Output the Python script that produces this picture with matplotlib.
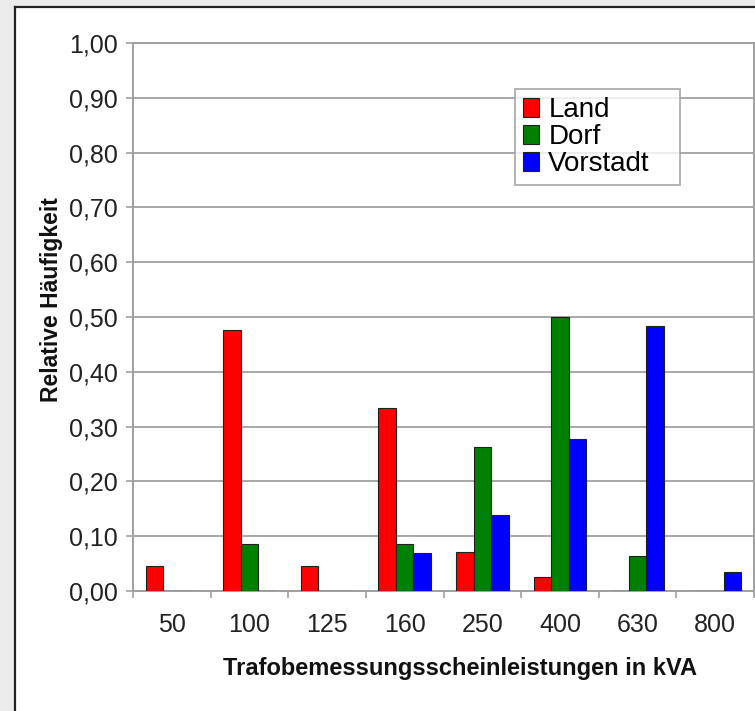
import numpy as np
import matplotlib.pyplot as plt
from matplotlib.lines import Line2D
from matplotlib.patches import Rectangle
from matplotlib.ticker import FuncFormatter

# Relative Häufigkeit der Trafogrößen je Netzgebiet
leistungen = ['50', '100', '125', '160', '250', '400', '630', '800']
land = [0.045, 0.476, 0.045, 0.334, 0.071, 0.026, 0.0, 0.0]
dorf = [0.0, 0.086, 0.0, 0.086, 0.262, 0.500, 0.064, 0.0]
vorstadt = [0.0, 0.0, 0.0, 0.069, 0.139, 0.277, 0.483, 0.035]

plt.rcParams['font.family'] = ['Liberation Sans', 'DejaVu Sans']

W, H = 755, 711
fig = plt.figure(figsize=(W / 100, H / 100), dpi=100)
fig.patch.set_facecolor('#ebebeb')

# weißes Blatt mit dunkler Kante links und oben
fig.patches.append(Rectangle((15 / W, 0), 1, (H - 7) / H, transform=fig.transFigure,
                             facecolor='white', edgecolor='none', zorder=-5))
fig.lines.append(Line2D([15 / W, 15 / W], [0, (H - 7) / H], transform=fig.transFigure,
                        color='#222222', lw=1.6, zorder=-4))
fig.lines.append(Line2D([15 / W, 1], [(H - 7) / H, (H - 7) / H], transform=fig.transFigure,
                        color='#222222', lw=1.6, zorder=-4))

ax = fig.add_axes([133 / W, (H - 591) / H, (754 - 133) / W, 548 / H])
ax.set_facecolor('white')

x = np.arange(len(leistungen))
bw = 0.225
kw = dict(width=bw, edgecolor='#202020', linewidth=0.8, zorder=3)
ax.bar(x - bw, land, color='#ff0000', label='Land', **kw)
ax.bar(x, dorf, color='#008000', label='Dorf', **kw)
ax.bar(x + bw, vorstadt, color='#0000ff', label='Vorstadt', **kw)

ax.set_xlim(-0.5, len(leistungen) - 0.5)
ax.set_ylim(0, 1.0)
ax.set_yticks(np.arange(0, 1.01, 0.1))
ax.yaxis.set_major_formatter(FuncFormatter(lambda v, p: f'{v:.2f}'.replace('.', ',')))
ax.grid(axis='y', color='#a8a8a8', linewidth=1.4, zorder=0)
ax.set_axisbelow(True)

ax.set_xticks(x)
ax.set_xticklabels(leistungen)
ax.set_xticks(np.arange(-0.5, len(leistungen)), minor=True)
ax.tick_params(axis='x', which='major', length=0, pad=16, labelsize=18, colors='#222222')
ax.tick_params(axis='x', which='minor', length=5, width=1.2, color='#a0a0a0')
ax.tick_params(axis='y', length=5, width=1.2, color='#a0a0a0', pad=6,
               labelsize=18, labelcolor='#222222')

for s in ax.spines.values():
    s.set_color('#a0a0a0')
    s.set_linewidth(1.4)

ax.set_ylabel('Relative Häufigkeit', fontsize=16.5, fontweight='bold', color='#111111')
ax.yaxis.set_label_coords(-(133 - 52) / 621, (591 - 300) / 548)
ax.yaxis.label.set_va('center')
ax.set_xlabel('Trafobemessungsscheinleistungen in kVA', fontsize=17, fontweight='bold',
              color='#111111')
ax.xaxis.set_label_coords((460 - 133) / 621, -(668 - 591) / 548)
ax.xaxis.label.set_va('center')

# Legende: Oberkante bei y=89 px, Breite 515..680 px
leg_top = 1 - (89 - 43) / 548
leg = ax.legend(loc='upper left',
                bbox_to_anchor=((515 - 133) / 621, leg_top - 0.1, (680 - 515) / 621, 0.1),
                mode='expand', fontsize=20, frameon=True, fancybox=False, borderpad=0.3,
                handlelength=0.55, handleheight=0.65, handletextpad=0.35,
                labelspacing=0.03, borderaxespad=0)
leg.get_frame().set_edgecolor('#a0a0a0')
leg.get_frame().set_linewidth(1.4)

fig.savefig('out.png', dpi=100, facecolor=fig.get_facecolor())
